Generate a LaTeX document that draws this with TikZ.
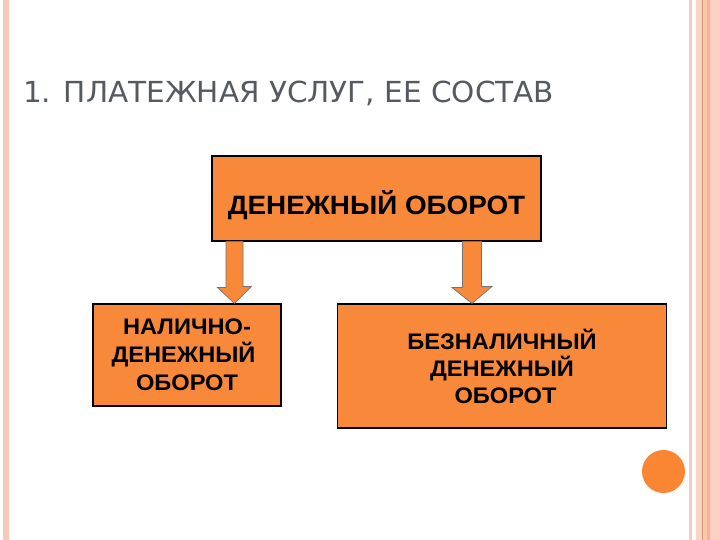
\documentclass[tikz,border=0pt]{standalone}
\usepackage{fontspec}
\setmainfont{Liberation Sans}
\newfontfamily\titlefont{DejaVu Sans}
\newfontfamily\boxfont[FakeStretch=1.05]{Liberation Sans}
\usetikzlibrary{calc}
\definecolor{boxorange}{RGB}{249,137,58}
\definecolor{dotorange}{RGB}{250,133,50}
\definecolor{titlegray}{RGB}{85,90,96}
\definecolor{stripeA}{RGB}{248,200,184}
\definecolor{stripeB}{RGB}{246,205,192}
\definecolor{stripeC}{RGB}{251,213,192}
\definecolor{stripeD}{RGB}{215,150,120}
\definecolor{stripeE}{RGB}{255,200,170}
\definecolor{stripeF}{RGB}{245,178,160}
\definecolor{stripeG}{RGB}{253,208,196}
\tikzset{
  orangebox/.style={draw=black, line width=1.1pt, fill=boxorange, inner sep=0pt, align=center},
  blockarrow/.style={fill=boxorange, draw=black!55, line width=0.7pt, line join=miter},
}
\begin{document}
\begin{tikzpicture}[x=1pt,y=-1pt]
\useasboundingbox (0,0) rectangle (720,540);
\fill[white] (0,0) rectangle (720,540);
% decorative stripes
\fill[stripeA] (3,0) rectangle (9,540);
\fill[stripeB] (689,0) rectangle (692,540);
\fill[stripeC] (696,0) rectangle (702,540);
\fill[stripeD] (702,0) rectangle (703,540);
\fill[stripeE] (703,0) rectangle (707,540);
\fill[stripeF] (707,0) rectangle (710,540);
\fill[stripeG] (710,0) rectangle (720,540);
% title
\node[anchor=base west, inner sep=0pt, text=titlegray] (title) at (23,103)
  {\resizebox{531pt}{21.5pt}{\titlefont 1. ПЛАТЕЖНАЯ УСЛУГ, ЕЕ СОСТАВ}};
% boxes
\node[orangebox, minimum width=329pt, minimum height=85pt,
      font=\boxfont\bfseries\fontsize{26.5}{30}\selectfont] (top) at (376.5,198.5)
  {\raisebox{-16pt}[0pt][0pt]{ДЕНЕЖНЫЙ ОБОРОТ}};
\node[orangebox, minimum width=188pt, minimum height=102pt,
      font=\boxfont\bfseries\fontsize{22.5}{28}\selectfont] (nal) at (187,355)
  {НАЛИЧНО-\\ДЕНЕЖНЫЙ\rule{7pt}{0pt}\\ОБОРОТ};
\node[orangebox, minimum width=329pt, minimum height=124pt,
      font=\boxfont\bfseries\fontsize{22.5}{27}\selectfont] (bez) at (502,366)
  {БЕЗНАЛИЧНЫЙ\\ДЕНЕЖНЫЙ\\\rule{7pt}{0pt}ОБОРОТ};
% arrow axes
\coordinate (la) at (234.5,0);
\coordinate (ra) at (472,0);
% block arrows
\draw[blockarrow] ($(top.south -| la)+(-8.5,0)$) -- ++(0,46) -- ++(-8.5,0)
  -- (nal.north -| la) -- ++(17,-17) -- ++(-8.5,0) -- ($(top.south -| la)+(8.5,0)$) -- cycle;
\draw[blockarrow] ($(top.south -| ra)+(-9.5,0)$) -- ++(0,46) -- ++(-10.5,0)
  -- (bez.north -| ra) -- ++(20,-17) -- ++(-10.5,0) -- ($(top.south -| ra)+(9.5,0)$) -- cycle;
% dot
\fill[dotorange] (663.5,471.5) circle[radius=21.5];
\end{tikzpicture}
\end{document}
